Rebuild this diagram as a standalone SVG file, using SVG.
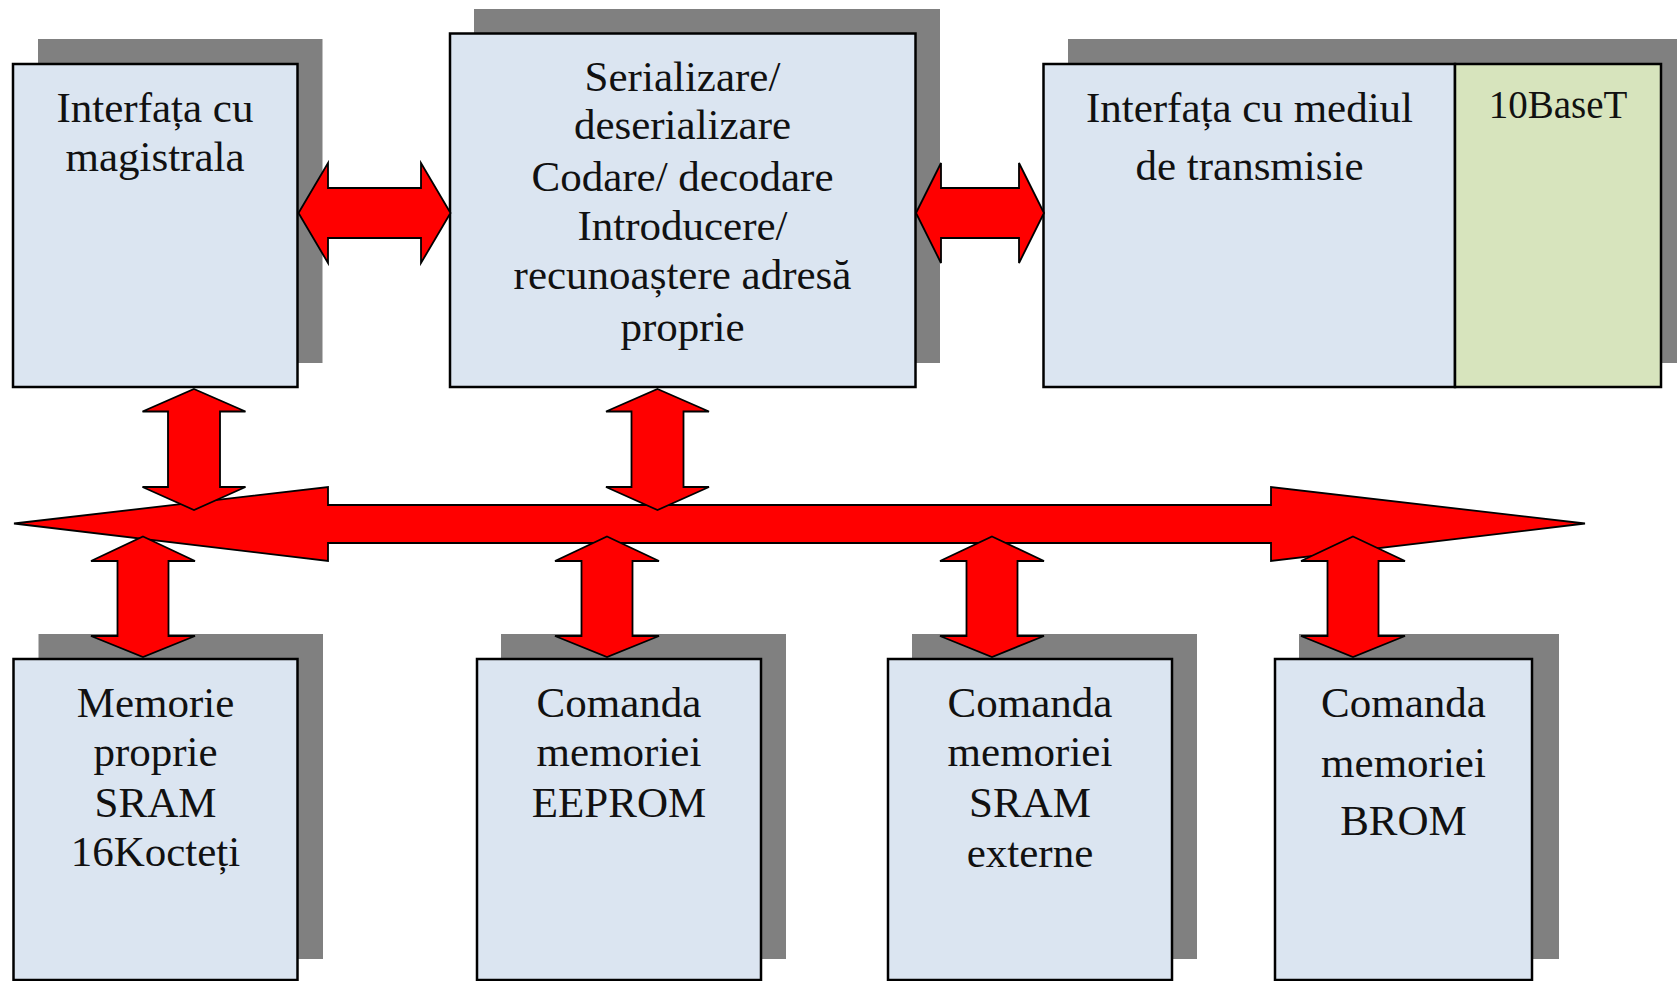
<svg xmlns="http://www.w3.org/2000/svg" xmlns:xlink="http://www.w3.org/1999/xlink" width="1677" height="981" viewBox="0 0 1677 981">
<style>
.shadow{fill:#808080;stroke:none}
.box{fill:#dbe5f1;stroke:#000;stroke-width:2.5}
.green{fill:#d7e4bd;stroke:#000;stroke-width:2.5}
.t{font-family:"Liberation Serif","Times New Roman",serif;font-size:43px;fill:#111;text-anchor:middle}
.arrow{fill:#ff0000;stroke:#000;stroke-width:1.8;stroke-linejoin:miter}
</style>
<defs>
<polygon id="varrowUp" class="arrow" points="0,0 51.5,22.5 26,22.5 26,98 51.5,98 0,121 -51.5,98 -26,98 -26,22.5 -51.5,22.5"/>
<polygon id="varrowDown" class="arrow" points="0,0 52,24.5 25.5,24.5 25.5,99.5 52,99.5 0,120.5 -52,99.5 -25.5,99.5 -25.5,24.5 -52,24.5"/>
</defs>
<rect width="1677" height="981" fill="#fff"/>

<g id="node-interfata-magistrala">
<rect class="shadow" x="38" y="39" width="284.5" height="324"/>
<rect class="box" x="13" y="64" width="284.5" height="323"/>
<text class="t" x="155" y="122">Interfața cu</text>
<text class="t" x="155" y="171">magistrala</text>
</g>

<g id="node-serializare">
<rect class="shadow" x="474" y="9" width="466" height="354"/>
<rect class="box" x="450" y="33.5" width="465.5" height="353.5"/>
<text class="t" x="682.5" y="90.5">Serializare/</text>
<text class="t" x="682.5" y="139">deserializare</text>
<text class="t" x="682.5" y="190.5">Codare/ decodare</text>
<text class="t" x="682.5" y="240">Introducere/</text>
<text class="t" x="682.5" y="288.5">recunoaștere adresă</text>
<text class="t" x="682.5" y="341">proprie</text>
</g>

<g id="node-interfata-mediu">
<rect class="shadow" x="1068" y="39" width="620" height="324"/>
<rect class="box" x="1043.5" y="64" width="411.5" height="323"/>
<text class="t" x="1249.5" y="122">Interfața cu mediul</text>
<text class="t" x="1249.5" y="180">de transmisie</text>
</g>

<g id="node-10baset">
<rect class="green" x="1455" y="64" width="206" height="323"/>
<text class="t" x="1558" y="118" style="font-size:39px">10BaseT</text>
</g>

<g id="node-memorie-proprie">
<rect class="shadow" x="38.5" y="634" width="284.5" height="325"/>
<rect class="box" x="13.5" y="659" width="284" height="321"/>
<text class="t" x="155.5" y="716.5">Memorie</text>
<text class="t" x="155.5" y="765.5">proprie</text>
<text class="t" x="155.5" y="816.5">SRAM</text>
<text class="t" x="155.5" y="866">16Kocteți</text>
</g>

<g id="node-eeprom">
<rect class="shadow" x="501" y="634" width="285" height="325"/>
<rect class="box" x="477" y="659" width="284" height="321"/>
<text class="t" x="619" y="716.5">Comanda</text>
<text class="t" x="619" y="765.5">memoriei</text>
<text class="t" x="619" y="816.5">EEPROM</text>
</g>

<g id="node-sram-externe">
<rect class="shadow" x="912" y="634" width="285" height="325"/>
<rect class="box" x="888" y="659" width="284" height="321"/>
<text class="t" x="1030" y="716.5">Comanda</text>
<text class="t" x="1030" y="765.5">memoriei</text>
<text class="t" x="1030" y="816.5">SRAM</text>
<text class="t" x="1030" y="866.5">externe</text>
</g>

<g id="node-brom">
<rect class="shadow" x="1299" y="634" width="260" height="325"/>
<rect class="box" x="1275" y="659" width="257" height="321"/>
<text class="t" x="1403.5" y="716.5">Comanda</text>
<text class="t" x="1403.5" y="776.5">memoriei</text>
<text class="t" x="1403.5" y="835">BROM</text>
</g>

<g id="connectors">
<polygon id="bus" class="arrow" points="14,523.5 328,487 328,505 1271,505 1271,487 1585,523.5 1271,561 1271,543 328,543 328,561"/>
<use xlink:href="#varrowUp" x="194" y="389"/>
<use xlink:href="#varrowUp" x="657.5" y="389"/>
<use xlink:href="#varrowDown" x="143" y="536.5"/>
<use xlink:href="#varrowDown" x="607" y="536.5"/>
<use xlink:href="#varrowDown" x="992" y="536.5"/>
<use xlink:href="#varrowDown" x="1353" y="536.5"/>
<polygon class="arrow" points="298.5,213 328,163 328,188 421,188 421,163 450.5,213 421,263 421,238 328,238 328,263"/>
<polygon class="arrow" points="916,213 941,163 941,188 1019,188 1019,163 1044,213 1019,263 1019,238 941,238 941,263"/>
</g>
</svg>
